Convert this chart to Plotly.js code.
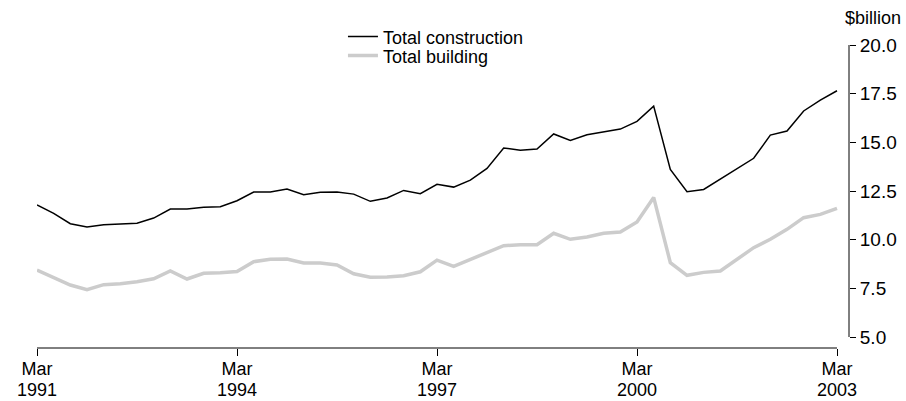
<!DOCTYPE html>
<html>
<head>
<meta charset="utf-8">
<script src="https://cdn.plot.ly/plotly-3.0.1.min.js"></script>
<style>html,body{margin:0;padding:0;background:#fff;}#chart{width:906px;height:401px;}</style>
</head>
<body>
<div id="chart"></div>
<script>
// Quarterly, Mar 1991 .. Mar 2003
const quarters = (function(){const q=[];const m=["Mar","Jun","Sep","Dec"];for(let y=1991;y<=2003;y++){for(const mm of m){q.push(mm+" "+y);if(y===2003)break;}}return q;})();
const totalConstruction = [
  11.78, 11.35, 10.82, 10.65, 10.77, 10.82, 10.84, 11.11, 11.57, 11.57, 11.66, 11.69,
  12.00, 12.45, 12.45, 12.60, 12.31, 12.43, 12.45, 12.34, 11.97, 12.14, 12.53, 12.36,
  12.84, 12.70, 13.06, 13.66, 14.71, 14.59, 14.66, 15.43, 15.10, 15.39, 15.53, 15.68,
  16.08, 16.86, 13.61, 12.46, 12.58, 13.10, 13.63, 14.18, 15.37, 15.58, 16.61, 17.17,
  17.65
];
const totalBuilding = [
  8.44, 8.07, 7.67, 7.43, 7.69, 7.74, 7.84, 7.99, 8.39, 7.98, 8.27, 8.30,
  8.36, 8.87, 8.99, 9.01, 8.80, 8.80, 8.70, 8.25, 8.07, 8.08, 8.15, 8.35,
  8.95, 8.63, 8.99, 9.31, 9.69, 9.74, 9.74, 10.33, 10.02, 10.14, 10.33, 10.39,
  10.91, 12.17, 8.82, 8.17, 8.32, 8.39, 8.99, 9.59, 10.02, 10.53, 11.13, 11.30,
  11.61
];
const seriesNames = ["Total construction", "Total building"];
const xTickQuarters = ["Mar 1991","Mar 1994","Mar 1997","Mar 2000","Mar 2003"];
const xTickMonths = ["Mar","Mar","Mar","Mar","Mar"];
const xTickYears = ["1991","1994","1997","2000","2003"];
const yTicks = [5, 7.5, 10, 12.5, 15, 17.5, 20];
const yTickText = ["5.0","7.5","10.0","12.5","15.0","17.5","20.0"];
const unitLabel = "$billion";

const xIdx = quarters.map((q,i)=>i);
const xTickVals = xTickQuarters.map(q=>quarters.indexOf(q));
const FONT = "Liberation Sans, Arial, sans-serif";
const nLast = quarters.length-1;

const traces = [
  {x:xIdx, y:totalConstruction, name:seriesNames[0], mode:"lines", type:"scatter",
   line:{color:"#000000", width:1.5}, legend:"legend"},
  {x:xIdx, y:totalBuilding, name:seriesNames[1], mode:"lines", type:"scatter",
   line:{color:"#cccccc", width:3.5}, legend:"legend2"},
  {x:xIdx, y:totalConstruction, xaxis:"x2", mode:"lines", type:"scatter", opacity:0,
   showlegend:false, hoverinfo:"skip", line:{width:0}}
];

const legendCommon = {xanchor:"left", yanchor:"top", bgcolor:"rgba(0,0,0,0)",
  font:{family:FONT, size:18, color:"#000"}, itemwidth:30};

const layout = {
  width:906, height:401,
  margin:{l:37, r:57, t:45, b:53, pad:0},
  paper_bgcolor:"#fff", plot_bgcolor:"#fff",
  font:{family:FONT, size:18, color:"#000"},
  showlegend:true,
  legend:Object.assign({x:0.3768, y:1.0881}, legendCommon),
  legend2:Object.assign({x:0.3768, y:1.0254}, legendCommon),
  xaxis:{range:[0, nLast*812/800], tickmode:"array", tickvals:xTickVals, ticktext:xTickMonths,
         ticks:"outside", ticklen:7, tickwidth:1, tickcolor:"#000", showgrid:false, zeroline:false,
         showline:false, ticklabelstandoff:-3, tickfont:{family:FONT, size:18, color:"#000"}, fixedrange:true},
  xaxis2:{overlaying:"x", matches:"x", anchor:"y", side:"bottom", range:[0, nLast*812/800],
         tickmode:"array", tickvals:xTickVals, ticktext:xTickYears,
         ticks:"", showgrid:false, zeroline:false, showline:false, ticklabelstandoff:29,
         tickfont:{family:FONT, size:18, color:"#000"}, fixedrange:true},
  yaxis:{side:"right", range:[5-11/19.467, 20], tickmode:"array", tickvals:yTicks, ticktext:yTickText,
         ticks:"outside", ticklen:6, tickwidth:1, tickcolor:"#000", showgrid:false, zeroline:false,
         showline:false, tickfont:{family:FONT, size:19, color:"#000"}, fixedrange:true},
  shapes:[
    {type:"line", xref:"paper", yref:"y", x0:1, x1:1, y0:5, y1:20, line:{color:"#000", width:1}},
    {type:"line", xref:"x", yref:"paper", x0:0, x1:nLast, y0:0, y1:0, line:{color:"#000", width:1}}
  ],
  annotations:[
    {text:unitLabel, xref:"paper", yref:"paper", x:1.0296, y:1.089, xanchor:"center", yanchor:"middle",
     showarrow:false, font:{family:FONT, size:18, color:"#000"}}
  ]
};
Plotly.newPlot("chart", traces, layout, {staticPlot:true, displayModeBar:false});
</script>
</body>
</html>
